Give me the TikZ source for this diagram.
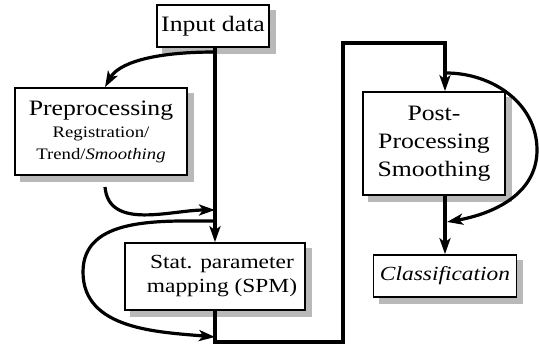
\documentclass[tikz,border=0pt]{standalone}
\usepackage{fontspec}
\setmainfont{Liberation Serif}[FakeStretch=1.17]
\usetikzlibrary{positioning, arrows.meta, backgrounds}
\definecolor{shadowgrey}{RGB}{185,185,185}
\tikzset{
	x=1pt, y=-1pt,
	>={Stealth[length=16pt,width=11pt,inset=4pt]},
	box/.style={draw, line width=1.6pt, fill=white, inner sep=0pt, align=center},
	boxshadow/.style={fill=shadowgrey},
	flow/.style={line width=3.2pt},
	bigtext/.style={font=\fontsize{22}{28}\selectfont},
	midtext/.style={font=\fontsize{20}{24}\selectfont},
	smalltext/.style={font=\fontsize{16}{22}\selectfont}}

\begin{document}
\begin{tikzpicture}
		\useasboundingbox (0,0) rectangle (539,344);
		\node[box, bigtext, minimum width=112pt, minimum height=42pt] at (213,26) (input) {Input data};
		\node[box, smalltext, minimum width=172pt, minimum height=87pt] at (101,131.5) (prep)
			{{\fontsize{22}{26}\selectfont Preprocessing}\\Registration/\\Trend/\textit{Smoothing}};
		\node[box, midtext, minimum width=180pt, minimum height=67pt] at (215,276.5) (spm)
			{\hspace*{14pt}Stat. parameter\\\hspace*{14pt}mapping (SPM)};
		\node[box, bigtext, minimum width=142pt, minimum height=103pt] at (434,143.5) (post)
			{Post-\\Processing\\Smoothing};
		\node[box, midtext, minimum width=143pt, minimum height=42pt] at (445,276) (class)
			{\textit{Classification}};
		
		% grey shadows behind the boxes
		\begin{scope}[on background layer]
			\foreach \n in {input, prep, spm, post, class}
				\fill[boxshadow] ([shift={(6pt,-6pt)}]\n.south west) rectangle ([shift={(6pt,-6pt)}]\n.north east);
		\end{scope}
		
		% points on the lines
		\coordinate (split) at (215,52);
		\coordinate (merge) at (215,210);
		\coordinate (loopin) at (215,221);
		\coordinate (loopout) at (215,337);
		\coordinate (loopleft) at (83,272);
		\coordinate (down) at (343,342);
		\coordinate (up) at (343,43);
		\coordinate (over) at (445,43);
		\coordinate (rloopin) at (446,73);
		\coordinate (rloopright) at (537,150);
		\coordinate (rloopout) at (447,222);
		
		\draw[flow, ->] (input.south -| spm.north) -- (spm.north);
		\draw[flow, ->] (split) .. controls (150,52) and (118,64) .. (prep.north -| 105,0);
		\draw[flow, ->] (105,187) to[out=-85, in=180] (merge);
		\draw[flow, ->] (loopin) to[out=180, in=90] (loopleft) to[out=-90, in=175] (loopout);
		\draw[flow, ->] (spm.south) |- (down) -- (up) -- (over) -- (over |- post.north);
		\draw[flow, ->] (rloopin) to[out=0, in=90] (rloopright) to[out=-90, in=10] (rloopout);
		\draw[flow, ->] (post.south -| over) -- (class.north);
	\end{tikzpicture}
\end{document}
